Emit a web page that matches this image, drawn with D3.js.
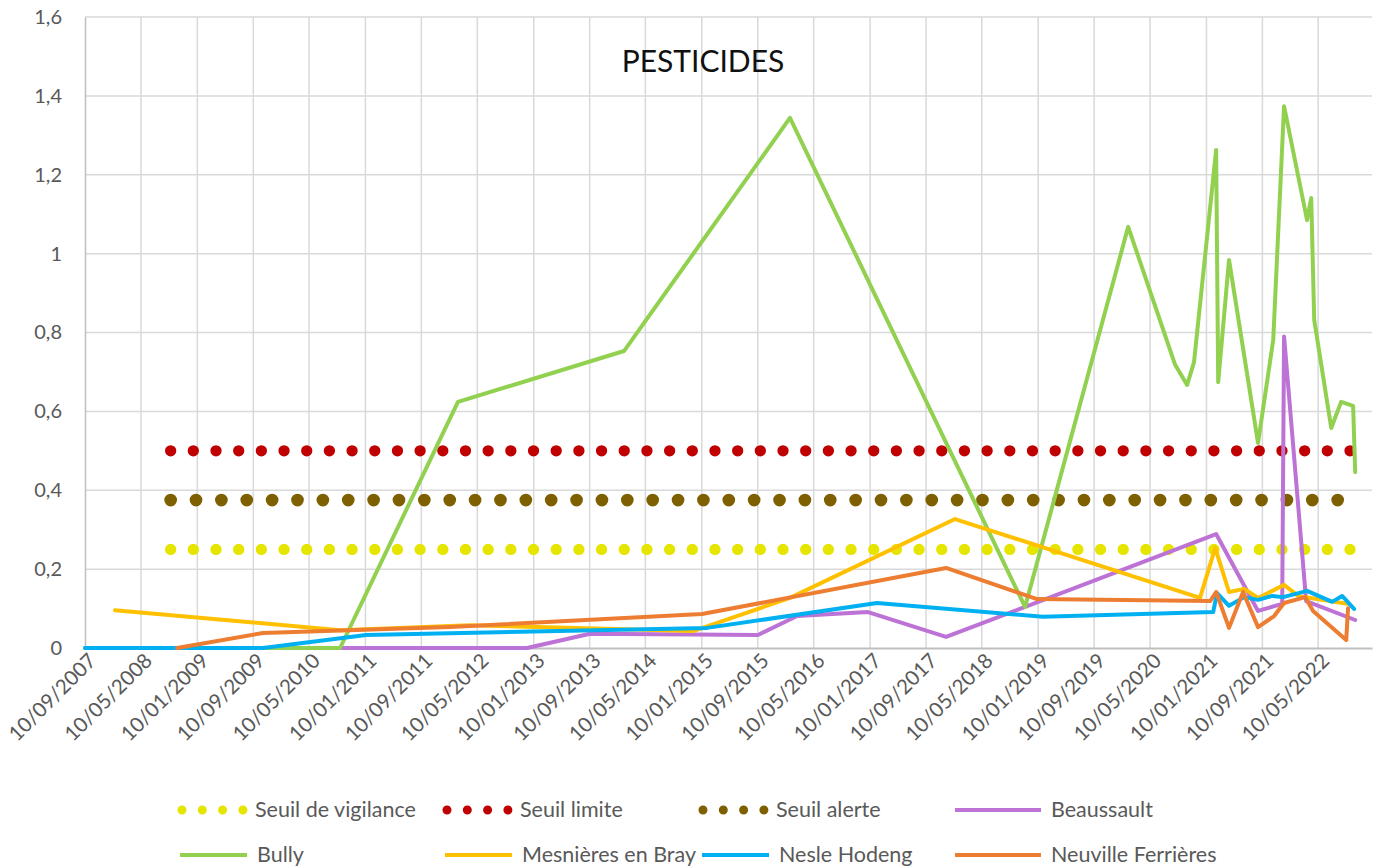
<!DOCTYPE html>
<html>
<head>
<meta charset="utf-8">
<script src="https://cdn.jsdelivr.net/npm/d3@7"></script>
<style>
  html, body { margin: 0; padding: 0; background: #fff; }
  svg { display: block; }
  text { font-family: Lato, "Open Sans", "Liberation Sans", sans-serif; }
</style>
</head>
<body>
<svg id="chart" width="1378" height="868"></svg>
<script>
// ---------- DATA ----------
const xTickLabels = ["10/09/2007","10/05/2008","10/01/2009","10/09/2009","10/05/2010","10/01/2011","10/09/2011","10/05/2012","10/01/2013","10/09/2013","10/05/2014","10/01/2015","10/09/2015","10/05/2016","10/01/2017","10/09/2017","10/05/2018","10/01/2019","10/09/2019","10/05/2020","10/01/2021","10/09/2021","10/05/2022"];
const xDomain = ["2007-09-10", "2022-12-30"];
const yTickValues = [0, 0.2, 0.4, 0.6, 0.8, 1, 1.2, 1.4, 1.6];
const yTickLabels = ["0", "0,2", "0,4", "0,6", "0,8", "1", "1,2", "1,4", "1,6"];
const chartTitle = "PESTICIDES";

const thresholdDates = ["2008-09-16", "2022-10-18"];
const seuilVigilance = [0.25, 0.25];
const seuilLimite = [0.5, 0.5];
const seuilAlerte = [0.375, 0.375];

const beaussaultDates = ["2010-09-22","2012-12-12","2013-09-12","2015-09-11","2016-02-28","2017-01-01","2017-12-06","2021-02-21","2021-08-22","2021-12-05","2021-12-13","2022-03-19","2022-10-18"];
const beaussaultValues = [0, 0, 0.036, 0.033, 0.081, 0.091, 0.028, 0.289, 0.094, 0.112, 0.790, 0.119, 0.071];

const bullyDates = ["2007-09-10","2010-09-22","2012-02-16","2014-02-06","2016-01-28","2018-11-14","2020-02-05","2020-08-27","2020-10-18","2020-11-17","2021-02-21","2021-03-02","2021-04-18","2021-08-22","2021-10-27","2021-12-13","2022-03-23","2022-04-10","2022-04-23","2022-07-06","2022-08-18","2022-10-09","2022-10-18"];
const bullyValues = [0, 0, 0.624, 0.753, 1.344, 0.104, 1.068, 0.718, 0.667, 0.725, 1.263, 0.674, 0.984, 0.520, 0.781, 1.374, 1.085, 1.141, 0.832, 0.558, 0.624, 0.614, 0.446];

const mesnieresDates = ["2008-01-18","2010-09-22","2012-04-08","2014-12-03","2016-01-28","2018-01-14","2020-12-13","2021-02-17","2021-04-18","2021-06-23","2021-08-22","2021-12-13","2022-02-12","2022-09-13"];
const mesnieresValues = [0.096, 0.045, 0.058, 0.043, 0.127, 0.327, 0.127, 0.254, 0.142, 0.150, 0.127, 0.160, 0.132, 0.112];

const nesleDates = ["2007-09-10","2009-10-22","2011-01-13","2015-02-02","2017-02-09","2019-01-31","2021-02-08","2021-02-25","2021-04-18","2021-06-23","2021-08-22","2021-10-22","2021-12-09","2022-03-23","2022-07-10","2022-08-22","2022-10-13"];
const nesleValues = [0, 0, 0.033, 0.051, 0.114, 0.079, 0.091, 0.139, 0.107, 0.129, 0.122, 0.132, 0.129, 0.145, 0.117, 0.132, 0.099];

const neuvilleDates = ["2008-10-14","2009-10-22","2012-01-12","2015-01-11","2017-12-06","2019-01-05","2021-01-26","2021-02-21","2021-04-18","2021-06-18","2021-08-22","2021-10-31","2021-12-13","2022-03-15","2022-04-18","2022-09-09","2022-09-17"];
const neuvilleValues = [0, 0.038, 0.053, 0.086, 0.203, 0.124, 0.119, 0.142, 0.051, 0.142, 0.053, 0.081, 0.114, 0.129, 0.094, 0.020, 0.101];

// ---------- SETUP ----------
const parseISO = d3.timeParse("%Y-%m-%d");
const parseFR = d3.timeParse("%d/%m/%Y");
const zip = (dates, vals) => dates.map((d, i) => ({ date: parseISO(d), value: vals[i] }));

const thresholds = [
  { name: "Seuil de vigilance", data: zip(thresholdDates, seuilVigilance), color: "#E5E500", width: 11.3, gap: 22.68 },
  { name: "Seuil limite", data: zip(thresholdDates, seuilLimite), color: "#C00000", width: 11.3, gap: 22.68 },
  { name: "Seuil alerte", data: zip(thresholdDates, seuilAlerte), color: "#7F6000", width: 12.7, gap: 25.37 }
];
const series = [
  { name: "Beaussault", data: zip(beaussaultDates, beaussaultValues), color: "#BD72D6" },
  { name: "Bully", data: zip(bullyDates, bullyValues), color: "#92D050" },
  { name: "Mesnières en Bray", data: zip(mesnieresDates, mesnieresValues), color: "#FFC000" },
  { name: "Nesle Hodeng", data: zip(nesleDates, nesleValues), color: "#00B0F0" },
  { name: "Neuville Ferrières", data: zip(neuvilleDates, neuvilleValues), color: "#ED7D31" }
];

const margin = { left: 85, right: 1372, top: 17, bottom: 648 };
const svg = d3.select("#chart");

const x = d3.scaleTime().domain(xDomain.map(parseISO)).range([margin.left, margin.right]);
const y = d3.scaleLinear().domain([0, 1.6]).range([margin.bottom, margin.top]);

const xTicks = xTickLabels.map(parseFR);

// gridlines
const grid = svg.append("g");
grid.selectAll("line.h").data(yTickValues.slice(1)).join("line")
  .attr("x1", margin.left).attr("x2", margin.right)
  .attr("y1", d => y(d)).attr("y2", d => y(d))
  .attr("stroke", "#D9D9D9").attr("stroke-width", 1.5);
grid.selectAll("line.v").data(xTicks.slice(1)).join("line")
  .attr("x1", d => x(d)).attr("x2", d => x(d))
  .attr("y1", margin.top).attr("y2", margin.bottom)
  .attr("stroke", "#D9D9D9").attr("stroke-width", 1.5);

// axes
const yAxis = d3.axisLeft(y).tickValues(yTickValues)
  .tickFormat((d, i) => yTickLabels[i]).tickSize(0).tickPadding(23);
const gy = svg.append("g").attr("transform", `translate(${margin.left},0)`).call(yAxis);
gy.select(".domain").attr("stroke", "#BFBFBF").attr("stroke-width", 1.5);
gy.selectAll("text").attr("fill", "#595959").style("font-size", "20px")
  .style("font-family", "Lato, 'Open Sans', sans-serif");

const xAxis = d3.axisBottom(x).tickValues(xTicks)
  .tickFormat((d, i) => xTickLabels[i]).tickSize(0);
const gx = svg.append("g").attr("transform", `translate(0,${margin.bottom})`).call(xAxis);
gx.select(".domain").attr("stroke", "#BFBFBF").attr("stroke-width", 2);
gx.selectAll("text").attr("fill", "#595959").style("font-size", "20.5px")
  .style("font-family", "Lato, 'Open Sans', sans-serif")
  .attr("text-anchor", "end")
  .attr("dy", "0")
  .attr("y", 0)
  .attr("transform", "translate(12,14) rotate(-45)");

// series lines
const line = d3.line().x(d => x(d.date)).y(d => y(d.value));
const plot = svg.append("g");
thresholds.forEach(t => {
  plot.append("path").datum(t.data)
    .attr("d", line).attr("fill", "none")
    .attr("stroke", t.color).attr("stroke-width", t.width)
    .attr("stroke-linecap", "round")
    .attr("stroke-dasharray", `0 ${t.gap}`);
});
series.forEach(s => {
  plot.append("path").datum(s.data)
    .attr("d", line).attr("fill", "none")
    .attr("stroke", s.color).attr("stroke-width", 4)
    .attr("stroke-linejoin", "round").attr("stroke-linecap", "round");
});

// title
svg.append("text").attr("x", 703).attr("y", 72)
  .attr("text-anchor", "middle").attr("fill", "#111")
  .style("font-size", "30px").text(chartTitle);

// legend
const legendItems = [
  { item: thresholds[0], type: "dot", x: 178, y: 810, w: 67 },
  { item: thresholds[1], type: "dot", x: 443, y: 810, w: 67 },
  { item: thresholds[2], type: "dot", x: 699, y: 810, w: 67 },
  { item: series[0], type: "line", x: 955, y: 810, w: 86 },
  { item: series[1], type: "line", x: 180, y: 855, w: 67 },
  { item: series[2], type: "line", x: 445, y: 855, w: 67 },
  { item: series[3], type: "line", x: 702, y: 855, w: 67 },
  { item: series[4], type: "line", x: 955, y: 855, w: 86 }
];
const lg = svg.append("g");
legendItems.forEach(l => {
  if (l.type === "dot") {
    lg.append("line").attr("x1", l.x + 4).attr("x2", l.x + l.w - 2)
      .attr("y1", l.y).attr("y2", l.y)
      .attr("stroke", l.item.color).attr("stroke-width", 9)
      .attr("stroke-linecap", "round").attr("stroke-dasharray", "0 20.3");
  } else {
    lg.append("line").attr("x1", l.x).attr("x2", l.x + l.w)
      .attr("y1", l.y).attr("y2", l.y)
      .attr("stroke", l.item.color).attr("stroke-width", 4);
  }
  lg.append("text").attr("x", l.x + l.w + 10).attr("y", l.y + 7)
    .attr("fill", "#595959").style("font-size", "21.5px").text(l.item.name);
});
</script>
</body>
</html>
